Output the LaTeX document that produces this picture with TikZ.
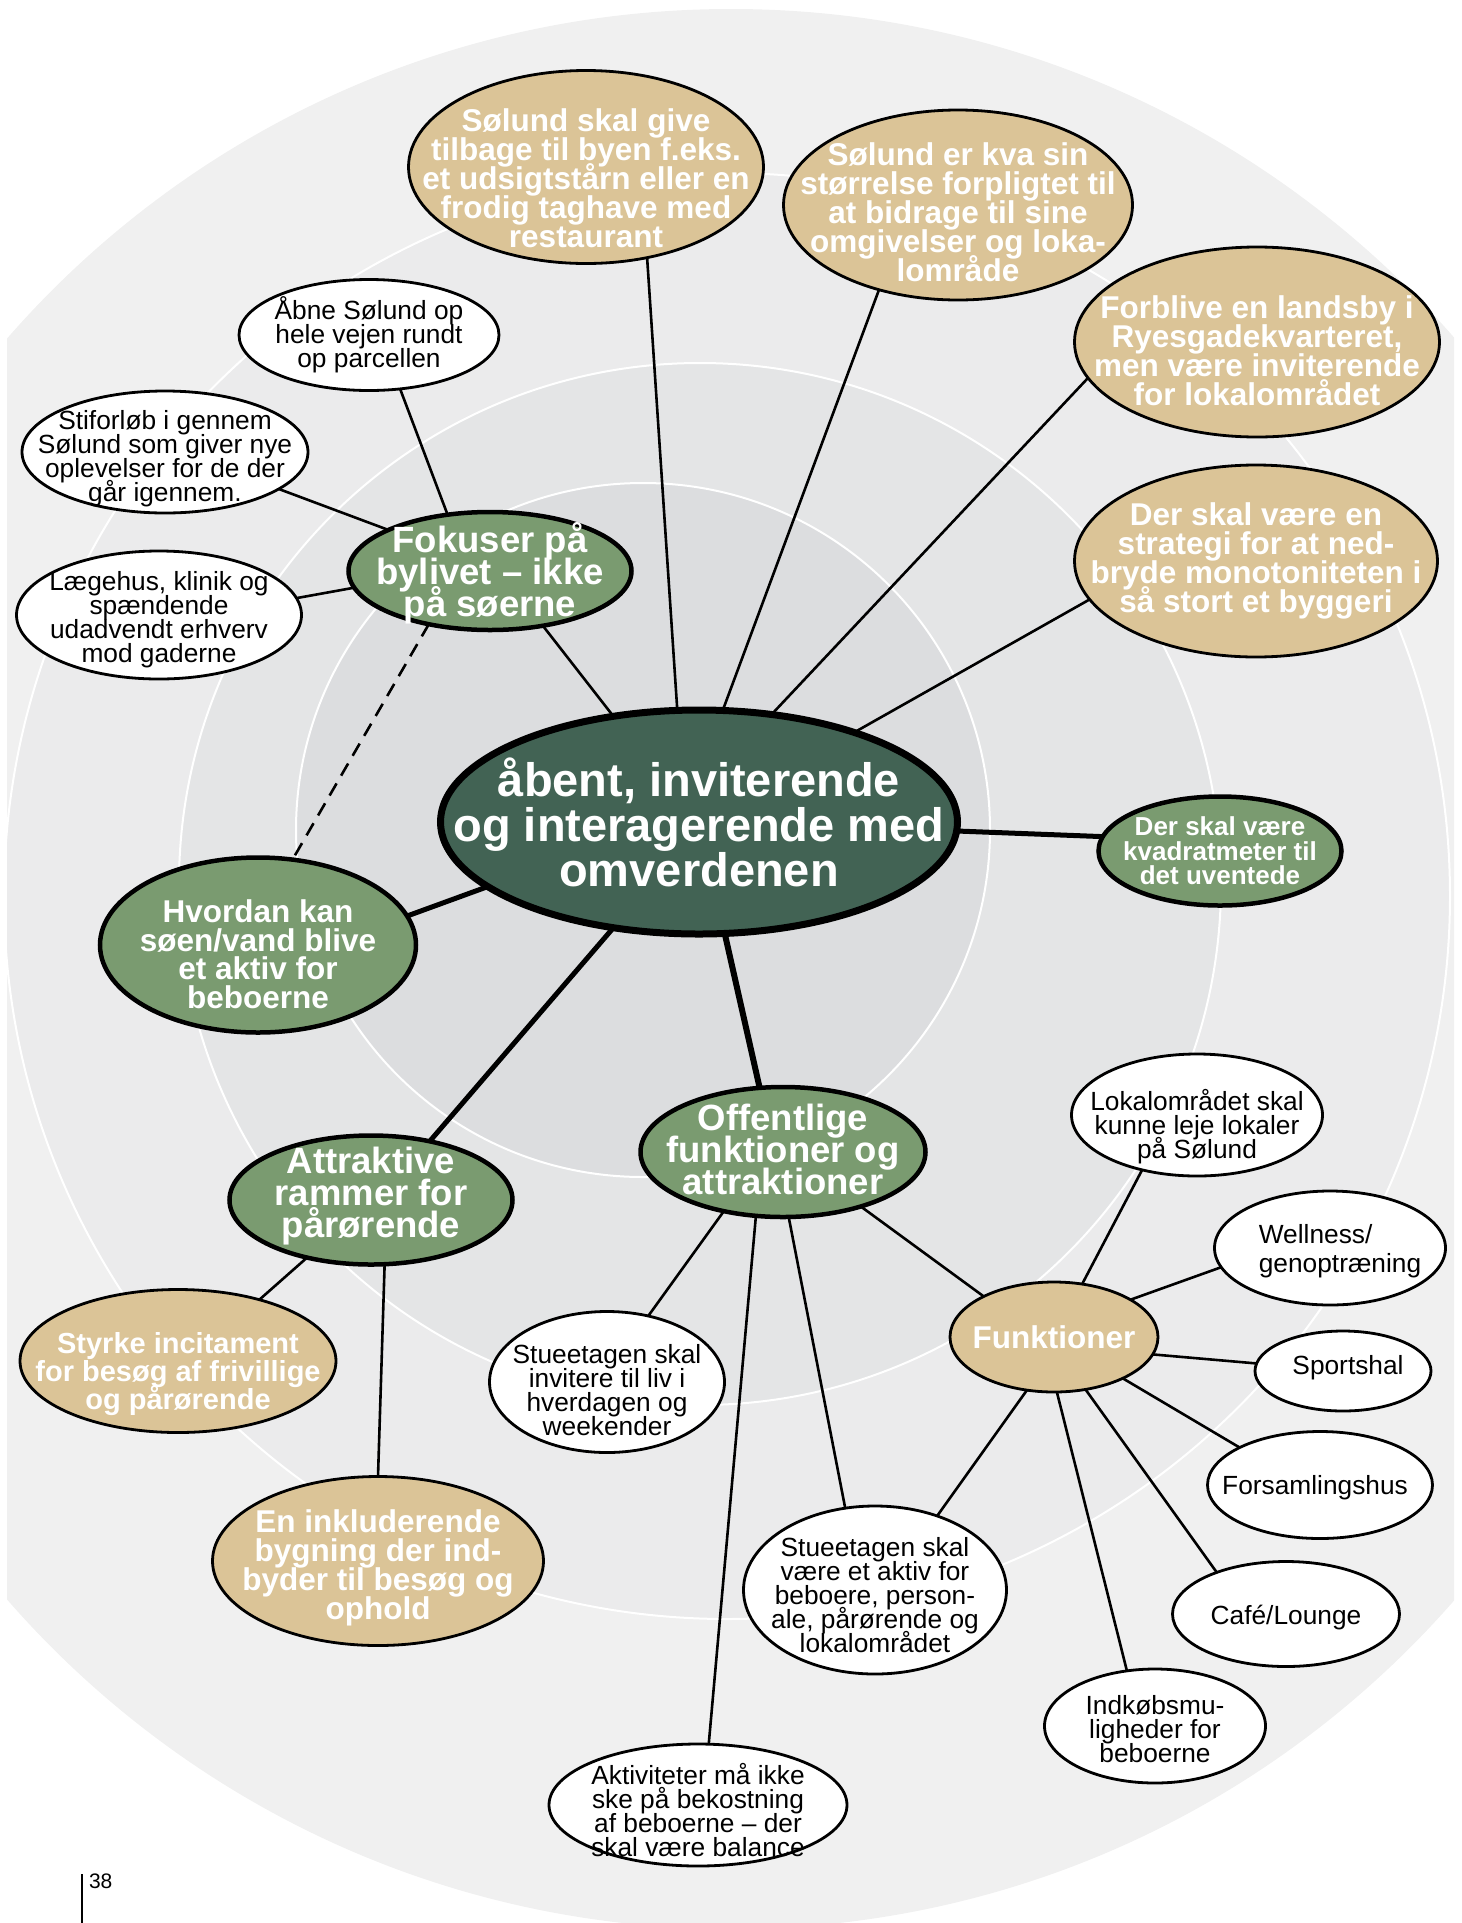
\documentclass[tikz,border=0pt]{standalone}
\usepackage{fontspec}
\setmainfont{Liberation Sans}
\usetikzlibrary{shapes.geometric}

\definecolor{ringA}{HTML}{F0F0F0}
\definecolor{ringB}{HTML}{EBEBEC}
\definecolor{ringC}{HTML}{E4E5E6}
\definecolor{ringD}{HTML}{DCDDDF}
\definecolor{coregreen}{HTML}{426354}
\definecolor{leafgreen}{HTML}{7A9B70}
\definecolor{sand}{HTML}{DBC497}

\pgfdeclarelayer{rings}
\pgfdeclarelayer{links}
\pgfsetlayers{rings,links,main}

\begin{document}
\begin{tikzpicture}[x=1pt,y=-1pt,
  every node/.style={inner sep=0pt, outer sep=0pt},
  core/.style={ellipse, draw=black, line width=7pt, fill=coregreen},
  theme/.style={ellipse, draw=black, line width=4.5pt, fill=leafgreen},
  idea/.style={ellipse, draw=black, line width=2.8pt, fill=sand},
  note/.style={ellipse, draw=black, line width=2.8pt, fill=white},
  size/.style 2 args={minimum width=#1, minimum height=#2},
  coretxt/.style={text=white, align=center, font={\fontsize{47}{45}\selectfont\bfseries\lineskiplimit=-100pt}},
  themetxt/.style={text=white, align=center, font={\fontsize{36.5}{32}\selectfont\bfseries\lineskiplimit=-100pt}},
  themetxtB/.style={text=white, align=center, font={\fontsize{31.5}{28.5}\selectfont\bfseries\lineskiplimit=-100pt}},
  themetxtC/.style={text=white, align=center, font={\fontsize{26}{24.5}\selectfont\bfseries\lineskiplimit=-100pt}},
  ideatxt/.style={text=white, align=center, font={\fontsize{31.5}{29}\selectfont\bfseries\lineskiplimit=-100pt}},
  ideatxtB/.style={text=white, align=center, font={\fontsize{29}{28.3}\selectfont\bfseries\lineskiplimit=-100pt}},
  notetxt/.style={text=black, align=center, font={\fontsize{26.3}{24}\selectfont\lineskiplimit=-100pt}},
  notetxtB/.style={text=black, align=left, font={\fontsize{26.3}{29}\selectfont\lineskiplimit=-100pt}},
  link/.style={line width=2.6pt},
  spoke/.style={line width=5pt},
  ringline/.style={draw=white, line width=2pt},
]
\useasboundingbox (0,0) rectangle (1462,1923);

% concentric background bands
\begin{pgfonlayer}{rings}
  \begin{scope}
    \clip (7,0) rectangle (1454,1923);
    \fill[ringA] (731,969) circle[radius=960pt];
    \fill[ringB, ringline] (727,896) circle[radius=723pt];
    \fill[ringC, ringline] (700,884) circle[radius=521pt];
    \fill[ringD, ringline] (643,830) circle[radius=347pt];
  \end{scope}
\end{pgfonlayer}

% centre
\node[core, size={517}{224}, label={[coretxt]center:{åbent, inviterende\\og interagerende med\\omverdenen}}] (M) at (699,822) {};

% green themes
\node[theme, size={283}{118}, label={[themetxt, yshift=-2.5pt]center:{Fokuser på\\bylivet – ikke\\på søerne}}] (F) at (490,571) {};
\node[theme, size={316}{175}, label={[themetxtB, yshift=-9pt]center:{Hvordan kan\\søen/vand blive\\et aktiv for\\beboerne}}] (H) at (258,945) {};
\node[theme, size={283}{129}, label={[themetxt, yshift=4pt]center:{Attraktive\\rammer for\\pårørende}}] (A) at (371,1200) {};
\node[theme, size={285}{130}, label={[themetxt, yshift=2.5pt]center:{Offentlige\\funktioner og\\attraktioner}}] (O) at (783,1152) {};
\node[theme, size={243}{109}, label={[themetxtC]center:{Der skal være\\kvadratmeter til\\det uventede}}] (K) at (1220,851) {};

% sand ideas
\node[idea, size={355}{193}, label={[ideatxt, yshift=-11pt]center:{Sølund skal give\\tilbage til byen f.eks.\\et udsigtstårn eller en\\frodig taghave med\\restaurant}}] (T1) at (586,167) {};
\node[idea, size={349}{190}, label={[ideatxt, yshift=-7pt]center:{Sølund er kva sin\\størrelse forpligtet til\\at bidrage til sine\\omgivelser og loka-\\lområde}}] (T2) at (958,205) {};
\node[idea, size={365}{190}, label={[ideatxt, yshift=-9pt]center:{Forblive en landsby i\\Ryesgadekvarteret,\\men være inviterende\\for lokalområdet}}] (T3) at (1257,342) {};
\node[idea, size={363}{192}, label={[ideatxt, yshift=0.5pt]center:{Der skal være en\\strategi for at ned-\\bryde monotoniteten i\\så stort et byggeri}}] (T4) at (1256,561) {};
\node[idea, size={316}{143}, label={[ideatxtB, yshift=-13pt]center:{Styrke incitament\\for besøg af frivillige\\og pårørende}}] (T5) at (178,1361) {};
\node[idea, size={331}{169}, label={[ideatxt, yshift=-6.5pt]center:{En inkluderende\\bygning der ind-\\byder til besøg og\\ophold}}] (T6) at (378,1561) {};
\node[idea, size={208}{110}, label={[ideatxt]center:{Funktioner}}] (T7) at (1054,1337) {};

% white notes
\node[note, size={260}{111}, label={[notetxt]center:{Åbne Sølund op\\hele vejen rundt\\op parcellen}}] (W1) at (369,335) {};
\node[note, size={286}{122}, label={[notetxt, yshift=-6.5pt]center:{Stiforløb i gennem\\Sølund som giver nye\\oplevelser for de der\\går igennem.}}] (W2) at (165,452) {};
\node[note, size={285}{128}, label={[notetxt, yshift=-5pt]center:{Lægehus, klinik og\\spændende\\udadvendt erhverv\\mod gaderne}}] (W3) at (159,615) {};
\node[note, size={251}{122}, label={[notetxt, yshift=-11.5pt]center:{Lokalområdet skal\\kunne leje lokaler\\på Sølund}}] (W4) at (1197,1115) {};
\node[note, size={231}{114}, label={[notetxtB, xshift=10pt, yshift=-3pt]center:{Wellness/\\genoptræning}}] (W5) at (1330,1248) {};
\node[note, size={176}{80}, label={[notetxt, xshift=5pt, yshift=3.3pt]center:{Sportshal}}] (W6) at (1343,1371) {};
\node[note, size={225}{107}, label={[notetxt, xshift=-5pt, yshift=-2.5pt]center:{Forsamlingshus}}] (W7) at (1320,1485) {};
\node[note, size={227}{105}, label={[notetxt, yshift=-3.7pt]center:{Café/Lounge}}] (W8) at (1286,1614) {};
\node[note, size={221}{114}, label={[notetxt, yshift=-3pt]center:{Indkøbsmu-\\ligheder for\\beboerne}}] (W9) at (1155,1726) {};
\node[note, size={263}{168}, label={[notetxt, yshift=-5pt]center:{Stueetagen skal\\være et aktiv for\\beboere, person-\\ale, pårørende og\\lokalområdet}}] (W10) at (875,1590) {};
\node[note, size={235}{141}, label={[notetxt, yshift=-8pt]center:{Stueetagen skal\\invitere til liv i\\hverdagen og\\weekender}}] (W11) at (607,1382) {};
\node[note, size={298}{122}, label={[notetxt, yshift=-5pt]center:{Aktiviteter må ikke\\ske på bekostning\\af beboerne – der\\skal være balance}}] (W12) at (698,1805) {};

% connectors
\begin{pgfonlayer}{links}
  \draw[link] (T1.304) -- (M.101);
  \draw[link] (T2.227) -- (M.78);
  \draw[link] (T3.192) -- (M.56);
  \draw[link] (T4.193) -- (M.30);
  \draw[link] (F.314) -- (M.129);
  \draw[spoke] (K.173) -- (M.358);
  \draw[spoke] (H.11) -- (M.197);
  \draw[spoke] (A.45) -- (M.231);
  \draw[spoke, line width=6pt] (O.110) -- (M.283);
  \draw[link, dash pattern=on 14pt off 9pt] (F.221) -- (H.68);
  \draw[link] (W1.300) -- (F.127);
  \draw[link] (W2.342) -- (F.158);
  \draw[link] (W3.7) -- (F.187);
  \draw[link] (A.222) -- (T5.37);
  \draw[link] (A.282) -- (T6.90);
  \draw[link] (O.225) -- (W11.58);
  \draw[link] (O.247) -- (W12.80);
  \draw[link] (O.275) -- (W10.110);
  \draw[link] (O.325) -- (T7.150);
  \draw[link] (T7.62) -- (W4.225);
  \draw[link] (T7.26) -- (W5.190);
  \draw[link] (T7.350) -- (W6.175);
  \draw[link] (T7.329) -- (W7.155);
  \draw[link] (T7.301) -- (W8.149);
  \draw[link] (T7.273) -- (W9.117);
  \draw[link] (T7.243) -- (W10.50);
\end{pgfonlayer}

% page number
\node[font={\fontsize{21}{21}\selectfont}, anchor=north west] (pg) at (89,1874) {38};
\coordinate (ruletop) at (82,1874);
\coordinate (rulebot) at (82,1923);
\draw[line width=1.3pt] (ruletop) -- (rulebot);
\end{tikzpicture}
\end{document}
